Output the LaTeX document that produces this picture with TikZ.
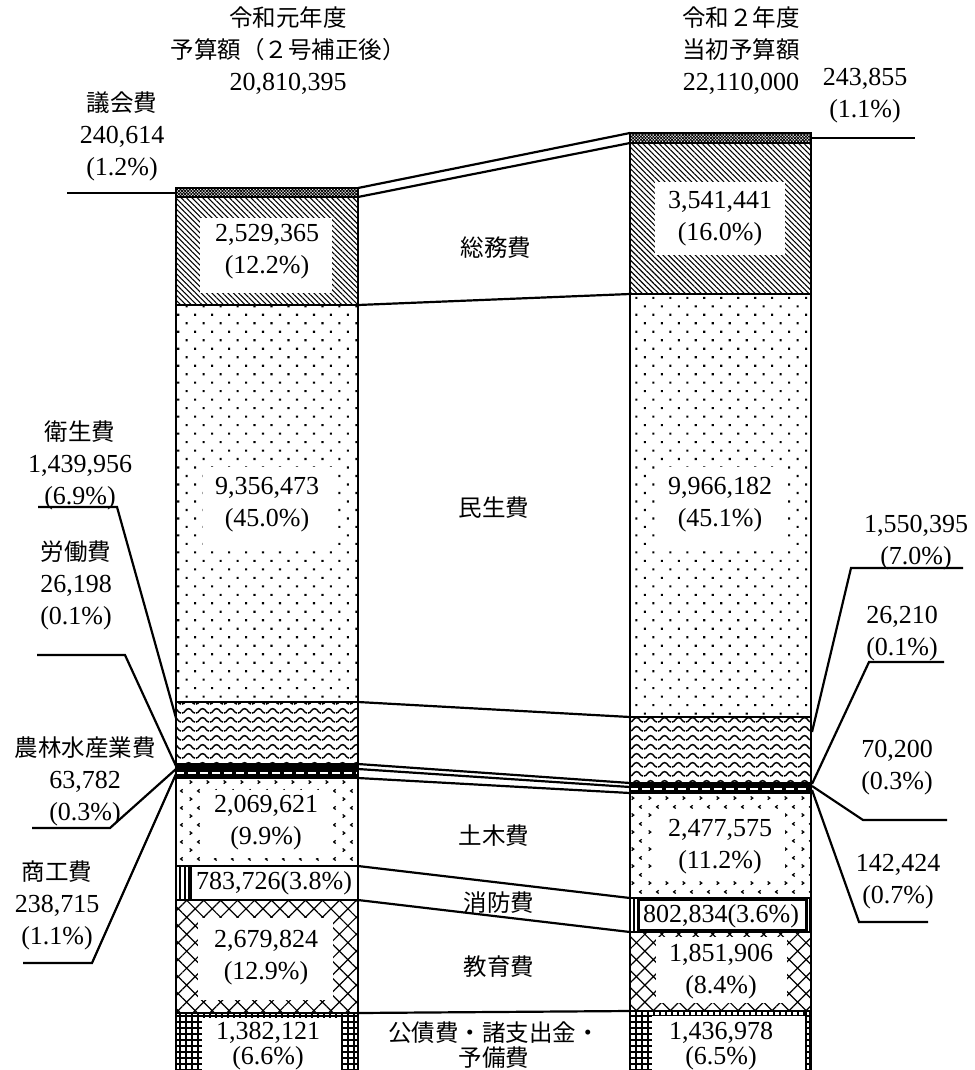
\documentclass[tikz,border=0pt]{standalone}
\usepackage{fontspec}
\setmainfont{Liberation Serif}
\newfontfamily\jpfont{Noto Sans CJK JP}
\usetikzlibrary{patterns,patterns.meta}
\newcommand\jtxt[1]{{\jpfont\fontsize{11.75}{16}\selectfont #1}}

\tikzdeclarepattern{
  name=wavy,
  type=uncolored,
  bounding box={(0pt,0pt) and (7pt,4.3pt)},
  tile size={(7pt,4.3pt)},
  code={
    \draw[line width=0.75pt] (0pt,1.0pt) .. controls (1.75pt,1.0pt) and (1.75pt,3.3pt) .. (3.5pt,3.3pt) .. controls (5.25pt,3.3pt) and (5.25pt,1.0pt) .. (7pt,1.0pt);
  }
}
\tikzdeclarepattern{
  name=chev,
  type=uncolored,
  bounding box={(0pt,0pt) and (8.5pt,8.3pt)},
  tile size={(8.5pt,8.3pt)},
  code={
    \draw[line width=0.65pt] (1.4pt,1.2pt) -- (2.5pt,2pt) -- (1.4pt,2.8pt);
    \draw[line width=0.65pt] (6.7pt,5.35pt) -- (5.6pt,6.15pt) -- (6.7pt,6.95pt);
  }
}

\begin{document}
\begin{tikzpicture}[x=0.5pt,y=-0.5pt,
  lbl/.style={align=center,inner sep=0pt,font=\fontsize{13}{16}\selectfont},
  jlbl/.style={align=center,inner sep=0pt,font=\jpfont\fontsize{11.75}{16}\selectfont},
  seg/.style={line width=1.3pt},
  conn/.style={line width=1.1pt},
  lead/.style={line width=1.1pt},
  wbox/.style={fill=white},
  giinpat/.style={pattern={Hatch[angle=45,distance=1.1pt,line width=0.4pt]}},
  somupat/.style={pattern={Lines[angle=-45,distance=1.9pt,line width=0.55pt]}},
  minpat/.style={pattern={Dots[angle=45,distance=6pt,radius=0.75pt]}},
  eisepat/.style={pattern=wavy},
  dobokupat/.style={pattern=chev},
  shobopat/.style={pattern={Lines[angle=90,distance=2.2pt,line width=1pt]}},
  kyoikupat/.style={pattern={Hatch[angle=45,distance=6pt,line width=0.6pt]}},
  koseipat/.style={pattern={Hatch[angle=0,distance=3pt,line width=0.75pt]}},
]
\useasboundingbox (0,0) rectangle (974,1070);

% ---------- left bar ----------
\fill[giinpat] (176,188) rectangle (358,197);
\fill[somupat] (176,197) rectangle (358,305);
\fill[wbox] (200,218) rectangle (332,293);
\fill[minpat] (176,305) rectangle (358,702);
\fill[wbox] (203,467) rectangle (335,545);
\fill[eisepat] (176,702) rectangle (358,764);
\fill (176,764) rectangle (358,778);
\draw[white,line width=1.3pt,dash pattern=on 4pt off 2pt] (176,773) -- (358,773);
\fill[dobokupat] (176,778) rectangle (358,866);
\fill[wbox] (200,790) rectangle (333,858);
\fill[shobopat] (176,866) rectangle (358,900);
\fill[wbox] (191,866) rectangle (358,900);
\draw[line width=0.8pt] (191,866) -- (191,900);
\fill[kyoikupat] (176,900) rectangle (358,1013);
\fill[wbox] (198,918) rectangle (333,1000);
\fill[koseipat] (176,1013) rectangle (358,1080);
\fill[wbox] (202,1018) rectangle (341,1080);
\foreach \yy in {188,197,305,702,764,778,866,900,1013}
  \draw[seg] (176,\yy) -- (358,\yy);
\draw[seg] (176,187.4) -- (176,1080);
\draw[seg] (358,187.4) -- (358,1080);

% ---------- right bar ----------
\fill[giinpat] (630,133) rectangle (811,143);
\fill[somupat] (630,143) rectangle (811,294);
\fill[wbox] (655,182) rectangle (785,255);
\fill[minpat] (630,294) rectangle (811,717);
\fill[wbox] (655,467) rectangle (785,545);
\fill[eisepat] (630,717) rectangle (811,783);
\fill (630,783) rectangle (811,793);
\draw[white,line width=1.1pt,dash pattern=on 4pt off 2pt] (630,789) -- (811,789);
\fill[dobokupat] (630,793) rectangle (811,898);
\fill[wbox] (655,810) rectangle (785,880);
\fill[shobopat] (630,898) rectangle (811,932);
\draw[line width=1.5pt,fill=white] (638,899.5) rectangle (806,930.5);
\fill[kyoikupat] (630,932) rectangle (811,1011);
\fill[wbox] (656,937) rectangle (787,1003);
\fill[koseipat] (630,1011) rectangle (811,1080);
\fill[wbox] (652,1016) rectangle (806,1080);
\draw[line width=0.6pt] (806,1011) -- (806,1080);
\foreach \yy in {133,143,294,717,783,793,898,932,1011}
  \draw[seg] (630,\yy) -- (811,\yy);
\draw[seg] (630,132.4) -- (630,1080);
\draw[seg] (811,132.4) -- (811,1080);

% ---------- connectors between bars ----------
\coordinate (L1) at (358,188);  \coordinate (R1) at (630,133);
\coordinate (L2) at (358,197);  \coordinate (R2) at (630,143);
\coordinate (L3) at (358,305);  \coordinate (R3) at (630,294);
\coordinate (L4) at (358,702);  \coordinate (R4) at (630,717);
\coordinate (L5) at (358,764);  \coordinate (R5) at (630,783);
\coordinate (L6) at (358,769);  \coordinate (R6) at (630,787);
\coordinate (L7) at (358,778);  \coordinate (R7) at (630,793);
\coordinate (L8) at (358,866);  \coordinate (R8) at (630,898);
\coordinate (L9) at (358,900);  \coordinate (R9) at (630,932);
\coordinate (L10) at (358,1013); \coordinate (R10) at (630,1011);
\foreach \i in {1,...,10}
  \draw[conn] (L\i) -- (R\i);

% ---------- leader lines, left ----------
\coordinate (gA) at (67,193);  \coordinate (gB) at (176,193);
\coordinate (eA) at (38,507);  \coordinate (eB) at (117,507); \coordinate (eC) at (176,718);
\coordinate (rA) at (37,655);  \coordinate (rB) at (125,655); \coordinate (rC) at (176,766);
\coordinate (nA) at (32,828);  \coordinate (nB) at (110,828); \coordinate (nC) at (176,769);
\coordinate (sA) at (23,963);  \coordinate (sB) at (92,963);  \coordinate (sC) at (176,774);
\draw[lead] (gA) -- (gB);
\draw[lead] (eA) -- (eB) -- (eC);
\draw[lead] (rA) -- (rB) -- (rC);
\draw[lead] (nA) -- (nB) -- (nC);
\draw[lead] (sA) -- (sB) -- (sC);

% ---------- leader lines, right ----------
\coordinate (gR1) at (811,138); \coordinate (gR2) at (915,138);
\coordinate (eR1) at (812,732); \coordinate (eR2) at (851,568); \coordinate (eR3) at (963,568);
\coordinate (rR1) at (812,784); \coordinate (rR2) at (869,662); \coordinate (rR3) at (944,662);
\coordinate (nR1) at (812,786); \coordinate (nR2) at (863,820); \coordinate (nR3) at (947,820);
\coordinate (sR1) at (812,790); \coordinate (sR2) at (859,922); \coordinate (sR3) at (928,922);
\draw[lead] (gR1) -- (gR2);
\draw[lead] (eR1) -- (eR2) -- (eR3);
\draw[lead] (rR1) -- (rR2) -- (rR3);
\draw[lead] (nR1) -- (nR2) -- (nR3);
\draw[lead] (sR1) -- (sR2) -- (sR3);

% ---------- titles ----------
\node[lbl] (titleL) at (288,51) {\jtxt{令和元年度}\\\jtxt{予算額（２号補正後）}\\20,810,395};
\node[lbl] (titleR) at (741,51) {\jtxt{令和２年度}\\\jtxt{当初予算額}\\22,110,000};

% ---------- side labels ----------
\node[lbl] (giinLlab) at (122,136) {\jtxt{議会費}\\240,614\\(1.2\%)};
\node[lbl] (giinRlab) at (865,96) {243,855\\(1.1\%)};
\node[lbl] (eiseLlab) at (80,465) {\jtxt{衛生費}\\1,439,956\\(6.9\%)};
\node[lbl] (rodoLlab) at (76,585) {\jtxt{労働費}\\26,198\\(0.1\%)};
\node[lbl] (norinLlab) at (85,781) {\jtxt{農林水産業費}\\63,782\\(0.3\%)};
\node[lbl] (shokoLlab) at (57,905) {\jtxt{商工費}\\238,715\\(1.1\%)};
\node[lbl] (eiseRlab) at (916,543) {1,550,395\\(7.0\%)};
\node[lbl] (rodoRlab) at (902,634) {26,210\\(0.1\%)};
\node[lbl] (norinRlab) at (897,768) {70,200\\(0.3\%)};
\node[lbl] (shokoRlab) at (898,882) {142,424\\(0.7\%)};

% ---------- centre labels ----------
\node[jlbl] (somu) at (496,248) {総務費};
\node[jlbl] (minsei) at (494,508) {民生費};
\node[jlbl] (doboku) at (494,836) {土木費};
\node[jlbl] (shobo) at (499,903) {消防費};
\node[jlbl] (kyoiku) at (499,967) {教育費};
\node[jlbl,font=\jpfont\fontsize{11.75}{12.8}\selectfont] (kosai) at (494,1045) {公債費・諸支出金・\\予備費};

% ---------- values inside bars ----------
\node[lbl] (vSomuL) at (267,252) {2,529,365\\(12.2\%)};
\node[lbl] (vSomuR) at (720,219) {3,541,441\\(16.0\%)};
\node[lbl] (vMinL) at (267,505) {9,356,473\\(45.0\%)};
\node[lbl] (vMinR) at (720,505) {9,966,182\\(45.1\%)};
\node[lbl] (vDobL) at (266,823) {2,069,621\\(9.9\%)};
\node[lbl] (vDobR) at (720,847) {2,477,575\\(11.2\%)};
\node[lbl] (vShoL) at (274,883) {783,726(3.8\%)};
\node[lbl] (vShoR) at (721,916) {802,834(3.6\%)};
\node[lbl] (vKyoL) at (266,958) {2,679,824\\(12.9\%)};
\node[lbl] (vKyoR) at (721,972) {1,851,906\\(8.4\%)};
\node[lbl,font=\fontsize{13}{12.5}\selectfont] (vKoL) at (268,1046.5) {1,382,121\\(6.6\%)};
\node[lbl,font=\fontsize{13}{12.5}\selectfont] (vKoR) at (721,1046.5) {1,436,978\\(6.5\%)};
\end{tikzpicture}
\end{document}
